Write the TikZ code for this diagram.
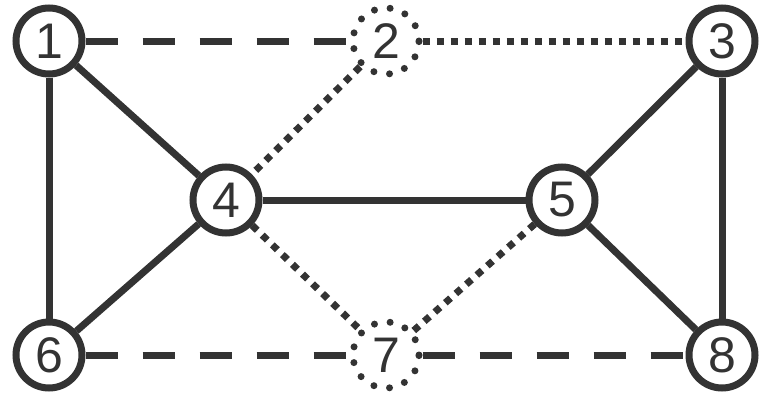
\documentclass[tikz,border=0pt]{standalone}
\usepackage{fontspec}
\setmainfont{Liberation Sans}
\definecolor{ink}{HTML}{333333}
\begin{document}
\begin{tikzpicture}[x=1pt,y=-1pt,
  vtx/.style={circle,draw=ink,line width=7pt,minimum size=66pt,inner sep=0pt,text=ink,font=\fontsize{50}{50}\selectfont},
  dvtx/.style={circle,draw=ink,line width=7pt,line cap=round,dash pattern=on 0pt off 15.9pt,minimum size=66pt,inner sep=0pt,text=ink,font=\fontsize{50}{50}\selectfont},
  solidedge/.style={draw=ink,line width=7pt},
  dashedge/.style={draw=ink,line width=7pt,dash pattern=on 32pt off 25pt},
  dotedge/.style={draw=ink,line width=7pt,dash pattern=on 7pt off 7pt}]
\useasboundingbox (0,0) rectangle (766,394);
\node[vtx] (n1) at (49,41) {1};
\node[dvtx] (n2) at (386,41) {2};
\node[vtx] (n3) at (722,41) {3};
\node[vtx] (n4) at (226,200) {4};
\node[vtx] (n5) at (562,200) {5};
\node[vtx] (n6) at (49,355) {6};
\node[dvtx] (n7) at (386,355) {7};
\node[vtx] (n8) at (722,355) {8};
\draw[dashedge] (n1) -- (n2);
\draw[dotedge] (n2) -- (n3);
\draw[solidedge] (n1) -- (n4);
\draw[solidedge] (n1) -- (n6);
\draw[dotedge] (n2) -- (n4);
\draw[solidedge] (n3) -- (n5);
\draw[solidedge] (n3) -- (n8);
\draw[solidedge] (n4) -- (n5);
\draw[solidedge] (n4) -- (n6);
\draw[dotedge] (n4) -- (n7);
\draw[dotedge] (n5) -- (n7);
\draw[dashedge] (n6) -- (n7);
\draw[dashedge] (n7) -- (n8);
\draw[solidedge] (n5) -- (n8);
\end{tikzpicture}
\end{document}
